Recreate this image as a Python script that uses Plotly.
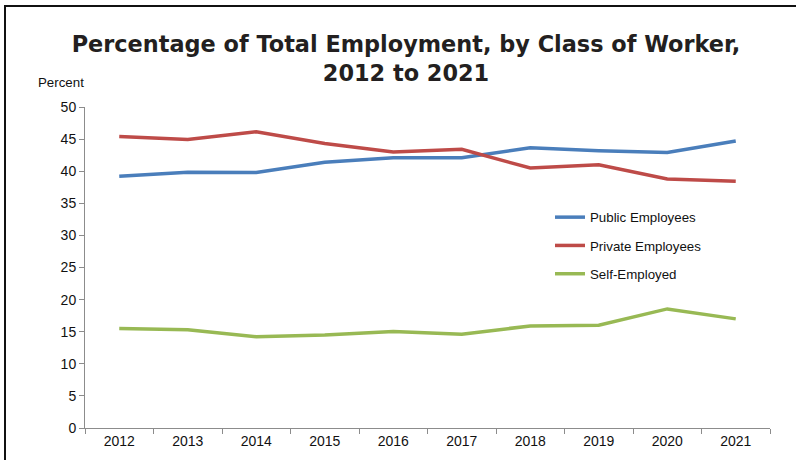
import plotly.graph_objects as go

years = ["2012", "2013", "2014", "2015", "2016", "2017", "2018", "2019", "2020", "2021"]
public_employees = [39.2, 39.85, 39.8, 41.4, 42.1, 42.1, 43.65, 43.2, 42.9, 44.7]
private_employees = [45.4, 44.95, 46.15, 44.3, 43.0, 43.4, 40.5, 41.0, 38.8, 38.45]
self_employed = [15.5, 15.3, 14.2, 14.5, 15.05, 14.6, 15.9, 16.0, 18.55, 17.0]
y_ticks = [0, 5, 10, 15, 20, 25, 30, 35, 40, 45, 50]

series = [
    ("Public Employees", public_employees, "#4a7ebb"),
    ("Private Employees", private_employees, "#be4b48"),
    ("Self-Employed", self_employed, "#98b954"),
]

fig = go.Figure()
for i, (name, vals, color) in enumerate(series):
    fig.add_trace(go.Scatter(
        x=years, y=vals, name=name, mode="lines",
        line=dict(color=color, width=3.5),
        legendgroup=f"g{i}",
    ))

W, H = 796, 460
ml, mr, mt, mb = 85, 26, 107, 32
pw, ph = W - ml - mr, H - mt - mb

def px_x(x):
    return (x - ml) / pw

def px_y(y):
    return 1 - (y - mt) / ph

fig.update_layout(
    width=W, height=H,
    margin=dict(l=ml, r=mr, t=mt, b=mb),
    paper_bgcolor="white", plot_bgcolor="white",
    font=dict(family="Liberation Sans, Arial, sans-serif", size=14, color="#111111"),
    title=dict(
        text="Percentage of Total Employment, by Class of Worker,<br>2012 to 2021",
        x=406 / W, xanchor="center", xref="container",
        y=1 - 52 / H, yanchor="middle", yref="container",
        font=dict(family="DejaVu Sans, sans-serif", size=22.4, color="#231f20", weight=700),
    ),
    showlegend=True,
    legend=dict(
        x=px_x(550), xanchor="left",
        y=px_y(202), yanchor="top",
        font=dict(size=13.3, color="#111111"),
        tracegroupgap=8,
        bgcolor="rgba(0,0,0,0)",
        itemwidth=30,
    ),
    xaxis=dict(
        type="category", range=[-0.5, 9.5],
        showgrid=False, zeroline=False,
        showline=True, linecolor="#8c8c8c", linewidth=1,
        ticks="outside", ticklen=5, tickcolor="#8c8c8c",
        tickson="boundaries",
        tickfont=dict(size=14),
    ),
    yaxis=dict(
        range=[0, 50], tickvals=y_ticks,
        showgrid=False, zeroline=False,
        showline=True, linecolor="#8c8c8c", linewidth=1,
        ticks="outside", ticklen=5, tickcolor="#8c8c8c",
        tickfont=dict(size=14),
    ),
)

fig.add_annotation(
    text="Percent", xref="paper", yref="paper",
    x=px_x(61), y=px_y(82),
    xanchor="center", yanchor="middle", showarrow=False,
    font=dict(size=13.3, color="#111111"),
)

# Frame lines (top and left edges of the image border)
fig.add_shape(type="line", xref="paper", yref="paper",
              x0=px_x(4), x1=px_x(796), y0=px_y(6), y1=px_y(6),
              line=dict(color="#111111", width=2))
fig.add_shape(type="line", xref="paper", yref="paper",
              x0=px_x(5), x1=px_x(5), y0=px_y(5), y1=px_y(462),
              line=dict(color="#111111", width=2))

fig.write_html(
    "out.html",
    config={"displayModeBar": False},
    post_script="document.body.style.margin='0px';document.body.style.overflow='hidden';",
)
